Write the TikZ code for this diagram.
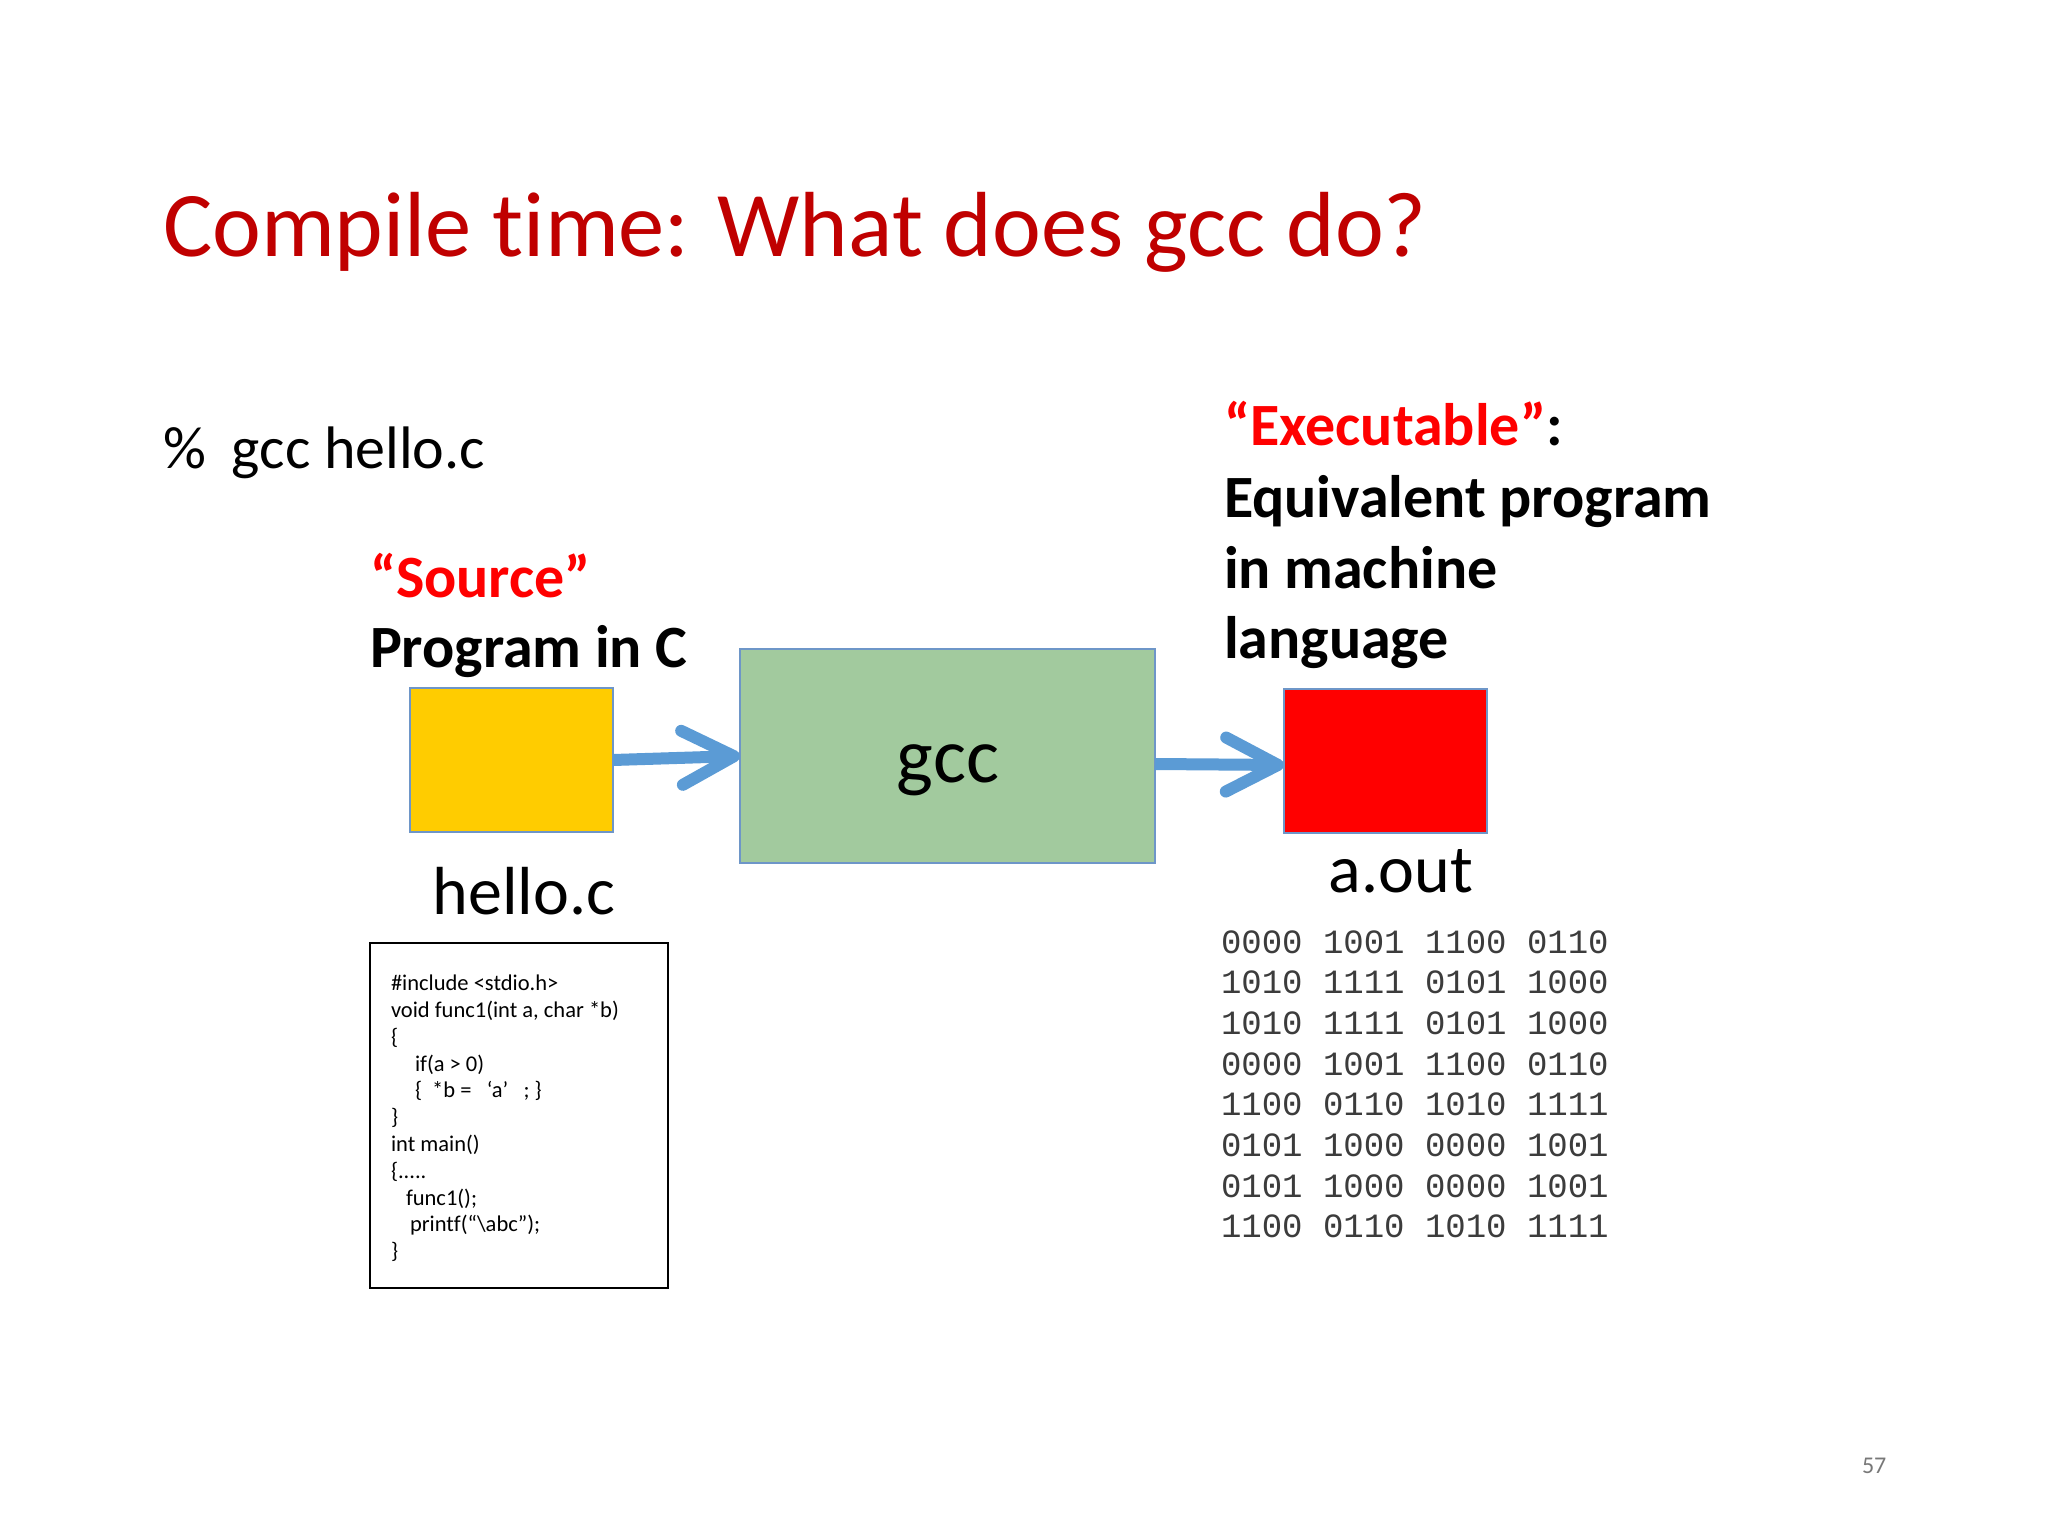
\documentclass[tikz,border=0pt]{standalone}
\usepackage{fontspec}
\setmainfont{Carlito}[Ligatures=NoCommon]
\newfontfamily\binfont{Liberation Mono}
\usetikzlibrary{arrows.meta}
\definecolor{titlered}{RGB}{192,0,0}
\definecolor{brightred}{RGB}{255,0,0}
\definecolor{arrowblue}{RGB}{91,155,213}
\definecolor{boxyellow}{RGB}{255,204,0}
\definecolor{boxgreen}{RGB}{162,202,158}
\definecolor{boxedge}{RGB}{110,150,200}
\definecolor{pagegrey}{RGB}{120,120,120}
\definecolor{bingrey}{RGB}{60,60,60}
\tikzset{
  txt/.style={anchor=base west, inner sep=0pt, outer sep=0pt},
  ctxt/.style={anchor=base, inner sep=0pt, outer sep=0pt},
  labelfont/.style={font=\bfseries\fontsize{60}{72}\selectfont},
  codefont/.style={font=\fontsize{22.5}{27}\selectfont},
  binfontstyle/.style={font=\binfont\fontsize{34}{40}\selectfont, text=bingrey},
  fillbox/.style={draw=boxedge, line width=1.5pt, inner sep=0pt, outer sep=0pt},
  flowarrow/.style={draw=arrowblue, line width=12pt,
    -{Straight Barb[length=52pt, width=54pt, round]}}
}
\begin{document}
\begin{tikzpicture}[x=1pt, y=-1pt]
\useasboundingbox (0,0) rectangle (2048,1536);
\fill[white] (0,0) rectangle (2048,1536);

% title
\node[txt, text=titlered, font=\fontsize{92.5}{111}\selectfont] (title) at (163,256) {Compile time: What does gcc do?};

% command
\node[txt, font=\fontsize{60}{72}\selectfont] (cmd) at (163,468) {\%\hspace{26pt}gcc hello.c};

% source labels
\node[txt, labelfont, text=brightred] (srcq) at (370,597) {“Source”};
\node[txt, labelfont] (srcp) at (370,667) {Program in C};

% executable labels
\node[txt, labelfont] (exe1) at (1224,445) {\textcolor{brightred}{“Executable”}:};
\node[txt, labelfont] (exe2) at (1224,517) {Equivalent program};
\node[txt, labelfont] (exe3) at (1224,588) {in machine};
\node[txt, labelfont] (exe4) at (1224,658) {language};

% boxes
\node[fillbox, fill=boxyellow, minimum width=203pt, minimum height=144pt] (src) at (511.5,760) {};
\node[fillbox, fill=boxgreen, minimum width=415pt, minimum height=214pt] (gcc) at (947.5,756) {};
\node[fillbox, fill=brightred, minimum width=203pt, minimum height=144pt] (out) at (1385.5,761) {};

\node[ctxt, font=\fontsize{78}{94}\selectfont] (gcclabel) at (948,782) {gcc};
\node[ctxt, font=\fontsize{68}{82}\selectfont] (hello) at (524,914) {hello.c};
\node[ctxt, font=\fontsize{68}{82}\selectfont] (aout) at (1401,892) {a.out};

% arrows
\draw[flowarrow] (src.east) -- (gcc.west);
\draw[flowarrow] ([yshift=-8pt]gcc.east) -- ([yshift=-4pt]out.west);

% code box
\node[draw=black, line width=2.2pt, inner sep=0pt, minimum width=298pt, minimum height=345pt] (codebox) at (519,1115.5) {};
\node[txt, codefont] (c1) at (391,990) {\#include <stdio.h>};
\node[txt, codefont] (c2) at (391,1017) {void func1(int a, char *b)};
\node[txt, codefont] (c3) at (391,1044) {\{};
\node[txt, codefont] (c4) at (415,1071) {if(a > 0)};
\node[txt, codefont] (c5) at (415,1097) {\{\ \ *b =\ \ \ ‘a’\ \ \ ; \}};
\node[txt, codefont] (c6) at (391,1124) {\}};
\node[txt, codefont] (c7) at (391,1151) {int main()};
\node[txt, codefont] (c8) at (391,1178) {\{.....};
\node[txt, codefont] (c9) at (406,1205) {func1();};
\node[txt, codefont] (c10) at (410,1231) {printf(“\textbackslash abc”);};
\node[txt, codefont] (c11) at (391,1258) {\}};

% binary
\foreach \line [count=\i] in {0000 1001 1100 0110, 1010 1111 0101 1000, 1010 1111 0101 1000, 0000 1001 1100 0110, 1100 0110 1010 1111, 0101 1000 0000 1001, 0101 1000 0000 1001, 1100 0110 1010 1111}{
  \node[txt, binfontstyle] (bin\i) at (1221,{953+(\i-1)*40.7}) {\line};
}

% page number
\node[txt, text=pagegrey, font=\fontsize{24}{28}\selectfont] (page) at (1862,1473) {57};
\end{tikzpicture}
\end{document}
